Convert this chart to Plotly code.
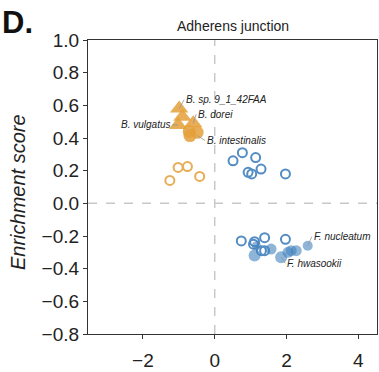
import plotly.graph_objects as go

# ---- data ----
orange_open_x = [-1.02, -0.76, -1.25, -0.42]
orange_open_y = [0.22, 0.225, 0.14, 0.165]

orange_tri_x = [-0.99, -0.90, -0.60, -1.02]
orange_tri_y = [0.58, 0.53, 0.49, 0.48]

orange_fill_x = [-0.71, -0.69, -0.49]
orange_fill_y = [0.44, 0.415, 0.435]

blue_open_x = [0.51, 0.77, 1.14, 0.93, 1.03, 1.29, 1.97,
               0.74, 1.11, 1.39, 1.97, 1.08, 1.30, 1.39]
blue_open_y = [0.26, 0.31, 0.28, 0.19, 0.18, 0.21, 0.18,
               -0.23, -0.235, -0.21, -0.22, -0.25, -0.29, -0.29]

blue_fill_x = [1.11, 1.57, 1.85, 2.04, 2.13, 2.27, 2.59, 1.16]
blue_fill_y = [-0.32, -0.28, -0.33, -0.30, -0.29, -0.29, -0.26, -0.26]

labels = ["B. sp. 9_1_42FAA", "B. dorei", "B. vulgatus", "B. intestinalis",
          "F. nucleatum", "F. hwasookii"]
label_x = [-0.99, -0.60, -1.02, -0.49, 2.59, 1.85]
label_y = [0.58, 0.49, 0.48, 0.415, -0.26, -0.33]

title = "Adherens junction"
x_ticks = [-2, 0, 2, 4]
y_ticks = [-0.8, -0.6, -0.4, -0.2, 0.0, 0.2, 0.4, 0.6, 0.8, 1.0]

ORANGE = "rgba(228,160,58,0.85)"
ORANGE_L = "rgb(228,160,58)"
BLUE = "rgba(66,129,189,0.85)"
BLUE_L = "rgb(66,129,189)"
FONT = "Liberation Sans"

fig = go.Figure()
fig.add_trace(go.Scatter(x=orange_open_x, y=orange_open_y, mode="markers",
                         marker=dict(symbol="circle-open", size=9, color=ORANGE_L,
                                     line=dict(width=2, color=ORANGE_L)), opacity=0.85))
fig.add_trace(go.Scatter(x=orange_tri_x, y=orange_tri_y, mode="markers",
                         marker=dict(symbol="triangle-up", size=16, color=ORANGE,
                                     line=dict(width=0))))
fig.add_trace(go.Scatter(x=orange_fill_x, y=orange_fill_y, mode="markers",
                         marker=dict(symbol="circle", size=13, color=ORANGE,
                                     line=dict(width=0))))
fig.add_trace(go.Scatter(x=blue_open_x, y=blue_open_y, mode="markers",
                         marker=dict(symbol="circle-open", size=9, color=BLUE_L,
                                     line=dict(width=2, color=BLUE_L)), opacity=0.9))
fig.add_trace(go.Scatter(x=blue_fill_x, y=blue_fill_y, mode="markers",
                         marker=dict(symbol="circle", size=[12, 11, 12, 11, 11, 11, 10, 9],
                                     color=BLUE, line=dict(width=0))))

# label offsets (pixels) for text relative to point
offs = [(5, -9, "left"), (3, -9, "left"), (-6, 0, "right"), (8, 5, "left"),
        (4, -9, "left"), (4, 6, "left")]
for t, lx, ly, (dx, dy, anc) in zip(labels, label_x, label_y, offs):
    fig.add_annotation(x=lx, y=ly, text="<i>%s</i>" % t, showarrow=True,
                       arrowhead=0, arrowwidth=1, arrowcolor="rgba(150,150,150,0.8)",
                       ax=dx, ay=dy, xanchor=anc, yanchor="middle",
                       font=dict(size=10, color="#222", family=FONT))

fig.add_hline(y=0, line=dict(color="#c8c8c8", width=1.5, dash="dash"), layer="below")
fig.add_vline(x=0, line=dict(color="#c8c8c8", width=1.5, dash="dash"), layer="below")

FW, FH = 379, 372
L, R, T, B = 88, 1, 40, 24
PW, PH = FW - L - R, FH - T - B
fig.add_annotation(xref="paper", yref="paper", x=(18 - L) / PW, y=(PH + T - 199) / PH,
                   text="<i>Enrichment score</i>", textangle=-90, showarrow=False,
                   xanchor="center", yanchor="middle",
                   font=dict(size=20, color="#222", family=FONT))
fig.add_annotation(xref="paper", yref="paper", x=(0 - L) / PW, y=(PH + T - 22) / PH,
                   text="<b>D.</b>", showarrow=False, xanchor="left", yanchor="middle",
                   font=dict(size=31, color="#111", family=FONT))
fig.add_annotation(xref="paper", yref="paper", x=0.5, y=(PH + T - 25) / PH,
                   text=title, showarrow=False, xanchor="center", yanchor="middle",
                   font=dict(size=14, color="#222", family=FONT))

axis_common = dict(showgrid=False, zeroline=False, showline=True, mirror=True,
                   linecolor="#333", linewidth=1.3, ticks="outside", ticklen=4,
                   tickwidth=1.2, tickcolor="#333",
                   tickfont=dict(size=19, color="#222", family=FONT))
fig.update_xaxes(range=[-3.53, 4.52], tickvals=x_ticks, ticklabelstandoff=5,
                 ticktext=[str(v).replace("-", "\u2212") for v in x_ticks], **axis_common)
fig.update_yaxes(range=[-0.8, 1.0], tickvals=y_ticks,
                 ticktext=[("%.1f" % v).replace("-", "\u2212") for v in y_ticks], **axis_common)

fig.update_layout(width=FW, height=FH, showlegend=False, autosize=False,
                  margin=dict(l=L, r=R, t=T, b=B),
                  plot_bgcolor="white", paper_bgcolor="white")
fig.write_html("out.html", config={"displayModeBar": False},
               post_script="document.body.style.margin='0px';document.body.style.overflow='hidden';")
